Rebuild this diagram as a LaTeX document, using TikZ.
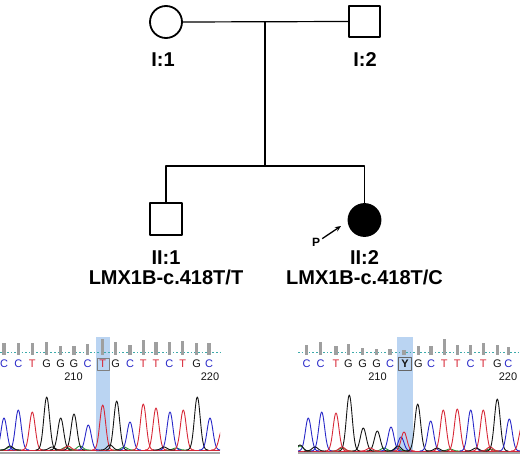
\documentclass[tikz,border=0pt]{standalone}
\usepackage{fontspec}
\setmainfont{Liberation Sans}
\usetikzlibrary{arrows.meta}
\definecolor{cb}{RGB}{40,40,200}
\definecolor{tr}{RGB}{215,40,55}
\definecolor{gk}{RGB}{20,20,20}
\definecolor{gr}{RGB}{40,150,60}
\definecolor{band}{RGB}{186,212,242}
\definecolor{dotc}{RGB}{60,170,170}
\newcommand\pk[4]{%
  \pgfmathsetmacro\pkc{#2}\pgfmathsetmacro\pkh{#3}\pgfmathsetmacro\pkb{#4}%
  \pgfmathsetmacro\mylo{\pkc-11}\pgfmathsetmacro\myhi{\pkc+11}%
  \draw[#1, line width=0.9pt] plot[smooth, variable=\u, domain=\mylo:\myhi, samples=33]
    (\u,{\pkb-\pkh*exp(0-((\u-\pkc)/4.1)*((\u-\pkc)/4.1))});}
\begin{document}
\begin{tikzpicture}[x=1pt,y=-1pt, line join=round,
  ped/.style={draw, line width=1.8pt, inner sep=0pt},
  fem/.style={ped, circle, minimum size=32pt},
  mal/.style={ped, rectangle, minimum size=31.5pt},
  rel/.style={line width=1.2pt},
  lab/.style={anchor=base, font=\bfseries\fontsize{20}{21}\selectfont},
  seq/.style={anchor=base, font=\fontsize{11}{12}\selectfont, inner sep=0pt},
  num/.style={anchor=base, font=\fontsize{11}{12}\selectfont, inner sep=0pt, text=gk},
  bar/.style={fill=gray!75, draw=none},
  dotl/.style={dotc, line width=0.9pt, dash pattern=on 1.6pt off 2pt}]
\useasboundingbox (0,0) rectangle (520,457);
% ---------- pedigree ----------
\node[fem] (i1) at (166,22) {};
\node[mal] (i2) at (364.5,21.5) {};
\coordinate (m) at (265,22);
\coordinate (s) at (265,166);
\coordinate (sl) at (166,166);
\coordinate (sr) at (364.5,166);
\node[mal] (ii1) at (166,219) {};
\node[fem, fill=black] (ii2) at (364.5,220) {};
\draw[rel] (i1.east) -- (i2.west);
\draw[rel] (m) -- (s);
\draw[rel] (ii1.north) -- (sl) -- (sr) -- (ii2.north);
\node[lab] (l1) at (163,67) {I:1};
\node[lab] (l2) at (365,67) {I:2};
\node[lab] (l3) at (166,265) {II:1};
\node[lab] (l4) at (364.5,265) {II:2};
\node[lab] (g1) at (166,285) {LMX1B-c.418T/T};
\node[lab] (g2) at (364.5,285) {LMX1B-c.418T/C};
\node[font=\bfseries\fontsize{12}{12}\selectfont, inner sep=0pt] (p) at (316,242) {P};
\coordinate (pa) at (341,226);
\draw[line width=1.3pt, -{Stealth[length=6pt,width=5pt]}] (p.north east) ++(2,1) -- (pa);
% ---------- left chromatogram ----------
\fill[band] (96,337) rectangle (110,452);
\draw[dotl] (0,352) -- (220,352);
\foreach \x/\t in {4/343,18.3/343,32.3/343,46.7/342,60.7/346,74/346,87.7/344,102.7/339,115.7/342,130/345,143.3/340,156/342,169.3/342,182.7/341,196.7/343,209/343}
  {\fill[bar] (\x-1.6,\t) rectangle (\x+1.6,355);}
\foreach \x/\b/\c in {4/C/cb,18.3/C/cb,32.3/T/tr,46.7/G/gk,60.7/G/gk,74/G/gk,87.7/C/cb,102.7/T/tr,115.7/G/gk,130/C/cb,143.3/T/tr,156/T/tr,169.3/C/cb,182.7/T/tr,196.7/G/gk,209/C/cb}
  {\node[seq, text=\c] at (\x,367) {\b};}
\draw[gray, line width=0.8pt] (97,358.5) rectangle (109,370);
\node[num] (n1) at (73.5,381) {210};
\node[num] (n2) at (210,381) {220};
\begin{scope}
\clip (0,330) rectangle (220,457);
\draw[gray!70, line width=1.4pt] (0,453) -- (220,453);
\draw[tr, line width=0.7pt] (0,450) -- (220,450);
\foreach \x/\h in {10/3,66/3,80/4,124/3,176/2}
  {\pk{gr}{\x}{\h}{450}}
\foreach \x/\h/\c in {4/32/cb,18.3/40/cb,32.3/38/tr,46.7/53/gk,60.7/32/gk,74/36/gk,88.3/25/cb,102.7/45/tr,116.7/49/gk,130/28/cb,143.3/46/tr,156/42/tr,170/38/cb,183.3/40/tr,197.3/53/gk,210/32/cb,222/20/tr}
  {\pk{\c}{\x}{\h}{450}}
\foreach \x/\h/\c in {10/4/gk,52/3/gk,68/4/tr,110/5/gk,164/3/gk}
  {\pk{\c}{\x}{\h}{450}}
\end{scope}
% ---------- right chromatogram ----------
\fill[band] (397,337) rectangle (413,452);
\draw[dotl] (298,352) -- (520,352);
\foreach \x/\t in {306.7/345,320.7/342,336/346,348.3/344,362.7/348,376.7/349,390/349,404/350,418.3/346,431/346,444.3/339,457.3/345,470.7/345,483.3/343,497.3/345,508.3/347}
  {\fill[bar] (\x-1.6,\t) rectangle (\x+1.6,355);}
\foreach \x/\b/\c in {306.7/C/cb,320.7/C/cb,336/T/tr,348.3/G/gk,362.7/G/gk,376.7/G/gk,390/C/cb,418.3/G/gk,431/C/cb,444.3/T/tr,457.3/T/tr,470.7/C/cb,483.3/T/tr,497.3/G/gk,508.3/C/cb}
  {\node[seq, text=\c] at (\x,367) {\b};}
\node[seq, text=gk, font=\bfseries\fontsize{11}{12}\selectfont] (yy) at (405,367) {Y};
\draw[gray!80!black, line width=0.8pt] (398.5,357.5) rectangle (411.5,370);
\node[num] (n3) at (377.5,381) {210};
\node[num] (n4) at (508,381) {220};
\begin{scope}
\clip (298,330) rectangle (520,457);
\draw[gray!70, line width=1.4pt] (298,453) -- (520,453);
\draw[tr, line width=0.7pt] (298,451) -- (520,451);
\foreach \x/\h in {300/5,342/3,384/3,397/3,450/2,490/2}
  {\pk{gr}{\x}{\h}{451}}
\foreach \x/\h/\c in {308.3/33/cb,321.7/39/cb,336/38/tr,349.3/56/gk,363.3/23/gk,377.3/20/gk,391/24/cb,401/14/cb,404/19/tr,417.7/47/gk,430.7/30/cb,443.3/41/tr,457.3/42/tr,470.7/41/cb,483.3/41/tr,497.3/52/gk,509.3/32/cb,522/25/tr}
  {\pk{\c}{\x}{\h}{451}}
\foreach \x/\h/\c in {300/6/gk,315/4/gk,342/4/tr,370/3/tr,398/5/gk,437/3/gk,476/3/gk,490/4/tr}
  {\pk{\c}{\x}{\h}{451}}
\end{scope}
\end{tikzpicture}
\end{document}
